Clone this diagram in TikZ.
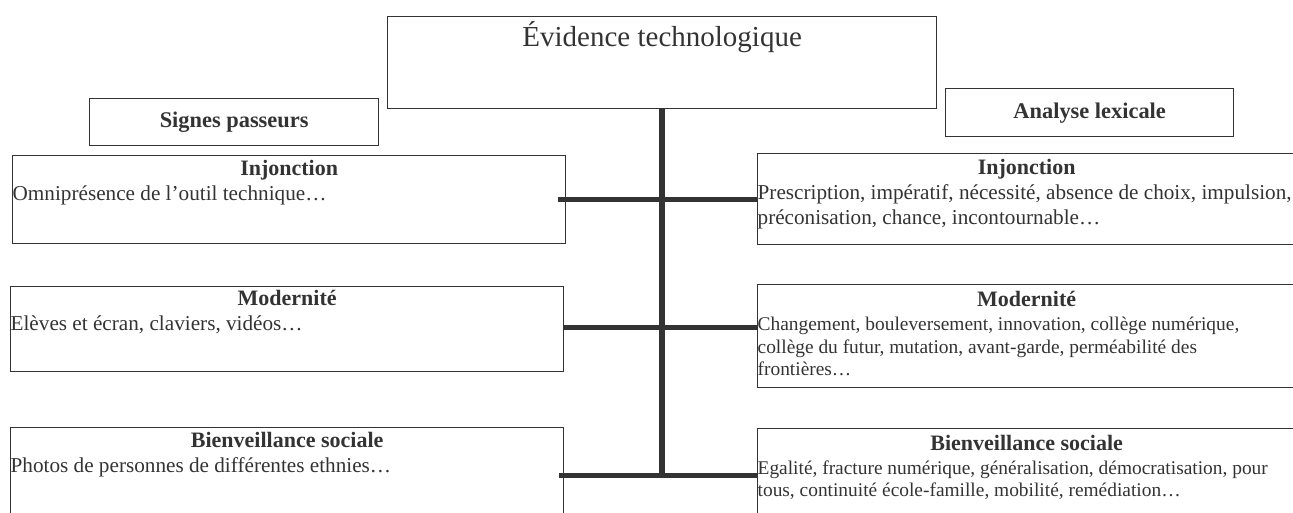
\documentclass[tikz,border=0pt]{standalone}
\usepackage{fontspec}
\setmainfont{Liberation Serif}
\definecolor{ink}{HTML}{333333}
% #1 box height, #2 box width, #3 centring width for the header, #4 header strut,
% #5 extra space after header, #6 body font size, #7 body line skip, #8 header, #9 body
\newcommand{\mycell}[9]{\parbox[c][#1][t]{#2}{\raggedright\rule{0pt}{#4}\makebox[#3][c]{\fontsize{22}{24}\selectfont\bfseries #8}\par\vspace{#5}\fontsize{#6}{#7}\selectfont #9\par}}
\begin{document}
\begin{tikzpicture}[x=1pt,y=-1pt,
  box/.style={draw=ink, line width=1.3pt, inner sep=0pt, anchor=north west, text=ink},
  titlebox/.style={draw=ink, line width=1.3pt, inner sep=0pt, anchor=north west, text=ink,
    font=\fontsize{22.4}{26}\selectfont\bfseries},
  conn/.style={draw=ink, line width=5.5pt}]
\useasboundingbox (0,0) rectangle (1293,513);
% top box
\node[box] (top) at (387,16) {\parbox[c][92pt][t]{549pt}{\centering\fontsize{29}{34}\selectfont\rule{0pt}{30pt}Évidence technologique}};
% column titles
\node[titlebox, minimum width=289pt, minimum height=47pt] (sp) at (89,98) {Signes passeurs};
\node[titlebox, minimum width=288pt, minimum height=48pt] (al) at (945,88) {Analyse lexicale};
% left boxes
\node[box] (li) at (12,155) {\mycell{88pt}{553pt}{553pt}{19.5pt}{0pt}{21.2}{25}{Injonction}{\mbox{Omniprésence de l’outil technique…}}};
\node[box] (lm) at (10,286) {\mycell{85pt}{553pt}{553pt}{19pt}{0pt}{21.2}{25}{Modernité}{\mbox{Elèves et écran, claviers, vidéos…}}};
\node[box] (lb) at (10,427) {\mycell{96pt}{553pt}{553pt}{19.5pt}{0pt}{21.2}{25}{Bienveillance sociale}{\mbox{Photos de personnes de différentes ethnies…}}};
% right boxes
\node[box] (ri) at (757,153) {\mycell{91pt}{548pt}{538pt}{20.5pt}{0pt}{21.2}{25}{Injonction}{\mbox{Prescription, impératif, nécessité, absence de choix, impulsion,}\\\mbox{préconisation, chance, incontournable…}}};
\node[box] (rm) at (757,284) {\mycell{103pt}{548pt}{538pt}{22pt}{1.5pt}{19.4}{22.5}{Modernité}{\mbox{Changement, bouleversement, innovation, collège numérique,}\\\mbox{collège du futur, mutation, avant-garde, perméabilité des}\\\mbox{frontières…}}};
\node[box] (rb) at (757,428) {\mycell{96pt}{548pt}{538pt}{22pt}{1pt}{19.4}{22.5}{Bienveillance sociale}{\mbox{Egalité, fracture numérique, généralisation, démocratisation, pour}\\\mbox{tous, continuité école-famille, mobilité, remédiation…}}};
% connectors
\draw[conn] (top.south) -- (top.south |- lb.east);
\draw[conn] ([xshift=-8pt]li.east) -- (li.east -| ri.west);
\draw[conn] ([yshift=1.5pt]lm.east) -- ([yshift=1.5pt]lm.east -| rm.west);
\draw[conn] ([xshift=-5pt]lb.east) -- (lb.east -| rb.west);
\end{tikzpicture}
\end{document}
